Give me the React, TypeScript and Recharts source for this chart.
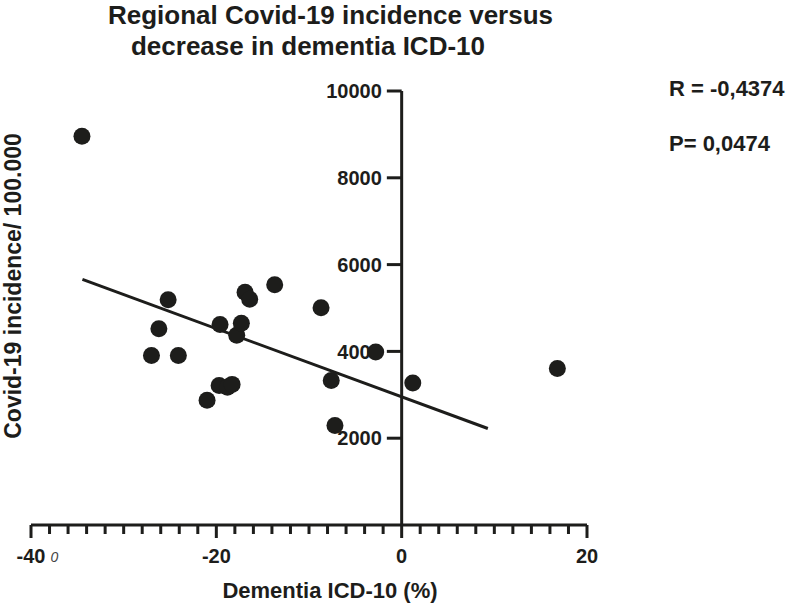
import React from 'react';
import { ScatterChart, Scatter, XAxis, YAxis, ReferenceLine } from 'recharts';

// change in dementia ICD-10 coding (%) per region
const dementiaChange = [
  -34.5, -25.2, -26.2, -27.0, -24.1, -19.6, -21.0, -19.7, -18.8, -18.3, -17.8,
  -17.3, -16.9, -16.4, -13.7, -8.7, -7.6, -7.2, -2.8, 1.2, 16.8,
];
// covid-19 incidence per 100.000 for the same regions
const covidIncidence = [
  8955, 5190, 4520, 3905, 3905, 4620, 2875, 3215, 3175, 3240, 4370,
  4650, 5365, 5200, 5535, 5005, 3330, 2295, 3985, 3270, 3605,
];
// regression line end points
const fitX = [-34.45, 9.3];
const fitY = [5658, 2224];

const xTicks = [
  -40, -38, -36, -34, -32, -30, -28, -26, -24, -22, -20, -18, -16, -14, -12, -10,
  -8, -6, -4, -2, 0, 2, 4, 6, 8, 10, 12, 14, 16, 18, 20,
];
const xLabels = [-40, -20, 0, 20];
const yTicks = [2000, 4000, 6000, 8000, 10000];

const INK = '#1d1d1b';
const FONT = "'Liberation Sans', Arial, Helvetica, sans-serif";

const points = dementiaChange.map((x, i) => ({ x, y: covidIncidence[i] }));
const fitLine = fitX.map((x, i) => ({ x, y: fitY[i] }));

function XTick(props: any) {
  const { x, y, payload } = props;
  const major = xLabels.includes(payload.value);
  return (
    <g>
      <line x1={x} y1={y} x2={x} y2={y + (major ? 13 : 9)} stroke={INK} strokeWidth={3} />
      {major && (
        <text x={x} y={y + 38} textAnchor="middle" fill={INK} fontSize={20} fontWeight={700} fontFamily={FONT}>
          {payload.value}
        </text>
      )}
      {payload.value === -40 && (
        <text x={x + 23.5} y={y + 37} textAnchor="middle" fill="#444" fontSize={14} fontStyle="italic" fontFamily={FONT}>
          0
        </text>
      )}
    </g>
  );
}

const Dot = (props: any) => <circle cx={props.cx} cy={props.cy} r={8.5} fill={INK} />;

const textBase = { position: 'absolute' as const, fontWeight: 700, lineHeight: '26px', whiteSpace: 'nowrap' as const };

export default function App() {
  return (
    <div style={{ position: 'absolute', left: 0, top: 0, width: 789, height: 605, background: '#fff', fontFamily: FONT, color: INK }}>
      <div style={{ ...textBase, left: 108, top: 0, width: 400, textAlign: 'center', fontSize: 26, lineHeight: '31px' }}>
        Regional Covid-19 incidence versus
        <br />
        decrease in dementia ICD-10
      </div>
      <div style={{ ...textBase, left: 669, top: 76, fontSize: 22 }}>R = -0,4374</div>
      <div style={{ ...textBase, left: 669, top: 131, fontSize: 22 }}>P= 0,0474</div>
      <div style={{ ...textBase, left: 12.5, top: 286, fontSize: 23, transform: 'translate(-50%, -50%) rotate(-90deg)' }}>
        Covid-19 incidence/ 100.000
      </div>
      <div style={{ ...textBase, left: 330, top: 578, fontSize: 22, transform: 'translateX(-50%)' }}>
        Dementia ICD-10 (%)
      </div>
      <ScatterChart width={789} height={605} margin={{ top: 91, right: 202, bottom: 30, left: 31 }}>
        <XAxis
          type="number"
          dataKey="x"
          domain={[-40, 20]}
          ticks={xTicks}
          interval={0}
          height={50}
          tickLine={false}
          tickSize={0}
          tickMargin={0}
          axisLine={{ stroke: INK, strokeWidth: 3 }}
          tick={<XTick />}
        />
        <YAxis type="number" dataKey="y" domain={[0, 10000]} hide />
        <ReferenceLine segment={[{ x: 0, y: 0 }, { x: 0, y: 10000 }]} stroke={INK} strokeWidth={3} />
        {yTicks.map((v) => (
          <ReferenceLine
            key={v}
            segment={[{ x: -1.6, y: v }, { x: 0, y: v }]}
            stroke={INK}
            strokeWidth={3}
            label={{ value: String(v), position: 'left', offset: 5, fill: INK, fontSize: 20, fontWeight: 700, fontFamily: FONT }}
          />
        ))}
        <Scatter data={fitLine} line={{ stroke: INK, strokeWidth: 3 }} shape={() => <g />} isAnimationActive={false} />
        <Scatter data={points} shape={Dot} isAnimationActive={false} />
      </ScatterChart>
    </div>
  );
}
